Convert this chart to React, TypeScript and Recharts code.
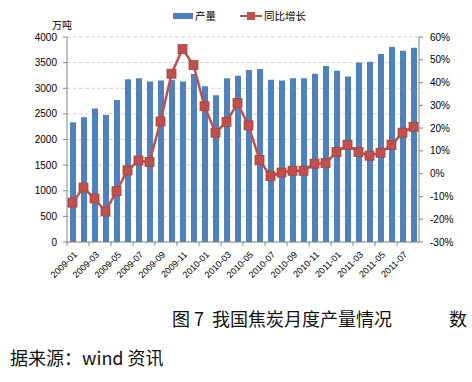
import React from "react";
import { ComposedChart, Bar, Line, XAxis, YAxis, CartesianGrid } from "recharts";

const months = [
  "2009-01", "2009-02", "2009-03", "2009-04", "2009-05", "2009-06", "2009-07", "2009-08",
  "2009-09", "2009-10", "2009-11", "2009-12", "2010-01", "2010-02", "2010-03", "2010-04",
  "2010-05", "2010-06", "2010-07", "2010-08", "2010-09", "2010-10", "2010-11", "2010-12",
  "2011-01", "2011-02", "2011-03", "2011-04", "2011-05", "2011-06", "2011-07", "2011-08",
];
const output = [
  2335, 2434, 2604, 2480, 2773, 3178, 3197, 3132,
  3152, 3165, 3132, 3276, 3041, 2865, 3197, 3243,
  3354, 3374, 3165, 3152, 3197, 3197, 3282, 3432,
  3341, 3230, 3504, 3517, 3667, 3804, 3732, 3791,
];
const yoy = [
  -12.7, -6.1, -10.9, -16.6, -7.7, 1.4, 5.8, 5.1,
  22.9, 43.9, 54.7, 47.7, 29.6, 18.0, 22.7, 31.0,
  21.2, 6.0, -1.1, 0.5, 1.3, 1.3, 4.4, 4.6,
  9.5, 12.6, 9.5, 7.9, 9.2, 12.6, 18.0, 20.6,
];
const leftTicks = [0, 500, 1000, 1500, 2000, 2500, 3000, 3500, 4000];
const rightTicks = [-30, -20, -10, 0, 10, 20, 30, 40, 50, 60];

const data = months.map((m, i) => ({ month: m, output: output[i], yoy: yoy[i] }));

const BLUE = "#4F81BD";
const RED = "#C0504D";
const AXIS = "#868686";
const FONT = "'Liberation Sans', Arial, sans-serif";
const CJK = "'Noto Sans CJK SC', sans-serif";

const XTick = (props: any) => {
  const { x, y, payload } = props;
  const tx = x + 3;
  const ty = y + 11;
  return (
    <g>
      <line x1={x - 5.5} y1={y} x2={x - 5.5} y2={y + 4} stroke={AXIS} />
      <text
        x={tx}
        y={ty}
        dy="0.35em"
        transform={`rotate(-45 ${tx} ${ty})`}
        textAnchor="end"
        fontSize={9}
        fontFamily={FONT}
        fill="#000"
      >
        {payload.value}
      </text>
    </g>
  );
};

const Square = (props: any) => {
  const { cx, cy, index } = props;
  if (cx == null || cy == null) return <g key={index} />;
  return (
    <rect
      key={index}
      x={cx - 4.5}
      y={cy - 4.5}
      width={9}
      height={9}
      fill={RED}
      stroke="#A8413D"
      strokeWidth={0.8}
    />
  );
};

export default function App() {
  return (
    <div style={{ position: "absolute", left: 0, top: 0, width: 472, height: 382, background: "#fff" }}>
      <ComposedChart
        width={472}
        height={300}
        data={data}
        margin={{ top: 37, right: 0, bottom: 0, left: 0 }}
      >
        <CartesianGrid vertical={false} stroke="#D4D4D4" strokeDasharray="4 2" yAxisId="left" />
        <XAxis
          dataKey="month"
          interval={1}
          height={58}
          tickLine={false}
          tickSize={0}
          tickMargin={0}
          stroke={AXIS}
          tick={<XTick />}
        />
        <YAxis
          yAxisId="left"
          orientation="left"
          width={67}
          domain={[0, 4000]}
          ticks={leftTicks}
          interval={0}
          tickSize={4}
          tickMargin={6}
          stroke={AXIS}
          tick={{ fontSize: 10, fill: "#000", fontFamily: FONT }}
        />
        <YAxis
          yAxisId="right"
          orientation="right"
          width={53}
          domain={[-30, 60]}
          ticks={rightTicks}
          interval={0}
          tickSize={4}
          tickMargin={7}
          stroke={AXIS}
          tickFormatter={(v: number) => `${v}%`}
          tick={{ fontSize: 10, fill: "#000", fontFamily: FONT }}
        />
        <Bar yAxisId="left" dataKey="output" fill={BLUE} barSize={6} isAnimationActive={false} />
        <Line
          yAxisId="right"
          dataKey="yoy"
          stroke={RED}
          strokeWidth={2.5}
          dot={<Square />}
          activeDot={false}
          isAnimationActive={false}
        />
      </ComposedChart>

      <div style={{ position: "absolute", left: 52, top: 18, fontSize: 10, fontFamily: CJK, lineHeight: "14px" }}>万吨</div>

      <div style={{ position: "absolute", left: 173, top: 9, display: "flex", alignItems: "center", fontSize: 10.5, fontFamily: CJK, lineHeight: "14px" }}>
        <span style={{ display: "inline-block", width: 20, height: 6, background: BLUE, marginRight: 2 }} />
        <span>产量</span>
        <span style={{ position: "relative", display: "inline-block", width: 22, height: 9, marginLeft: 24, marginRight: 2 }}>
          <span style={{ position: "absolute", left: 0, top: 3.5, width: 22, height: 2, background: RED }} />
          <span style={{ position: "absolute", left: 7, top: 0.5, width: 8, height: 8, background: RED }} />
        </span>
        <span>同比增长</span>
      </div>

      <div style={{ position: "absolute", left: 172, top: 306, fontSize: 18, fontFamily: CJK, lineHeight: "24px", whiteSpace: "pre", color: "#111" }}>
        {"图 7  我国焦炭月度产量情况"}
      </div>
      <div style={{ position: "absolute", left: 449, top: 306, fontSize: 18, fontFamily: CJK, lineHeight: "24px", color: "#111" }}>数</div>
      <div style={{ position: "absolute", left: 10, top: 345, fontSize: 18, fontFamily: CJK, lineHeight: "24px", whiteSpace: "pre", color: "#111" }}>
        {"据来源：wind 资讯"}
      </div>
    </div>
  );
}
